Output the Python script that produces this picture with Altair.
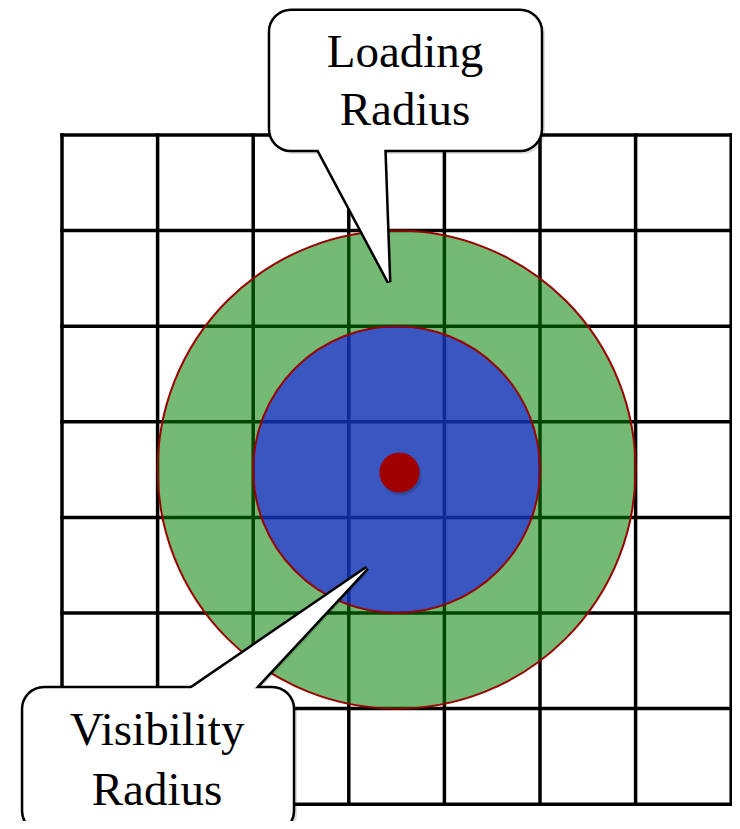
import altair as alt
import pandas as pd

# ---------------- data ----------------
GRID_LINES = [0, 1, 2, 3, 4, 5, 6, 7]          # cell boundaries (cell units)
GRID_MIN, GRID_MAX = 0, 7

CENTER = [3.5, 3.5]                             # centre of the zones
ZONE_NAMES = ["Loading", "Visibility"]
ZONE_RADII = [2.5, 1.5]                         # radius in cells
ZONE_FILLS = ["#008000", "#181ced"]
ZONE_OPACITY = [0.545, 0.63]

PLAYER_POS = [3.53, 3.53]
PLAYER_RADIUS = 0.21

CALLOUT_LINES = [["Loading", "Radius"], ["Visibility", "Radius"]]
CALLOUT_TEXT_U = [3.588, 0.994]
CALLOUT_TEXT_V = [[-0.711, -0.105], [6.381, 7.008]]
CALLOUT_BOX_U = [[2.165, 5.021], [-0.418, 2.427]]
CALLOUT_BOX_V = [[-1.31, 0.167], [5.774, 7.30]]
CALLOUT_BASE_U = [[2.646, 3.368], [1.255, 1.956]]
CALLOUT_BASE_V = [0.167, 5.774]
CALLOUT_TIP = [[3.42, 1.538], [3.19, 4.529]]

# ---------------- layout ----------------
WIDTH, HEIGHT = 724, 813
XDOM = [-0.5649, 7.0084]
YDOM = [-1.3285, 7.1757]
S = WIDTH / (XDOM[1] - XDOM[0])  # px per cell

xs = alt.Scale(domain=XDOM, nice=False, zero=False)
ys = alt.Scale(domain=YDOM, nice=False, zero=False, reverse=True)
size_scale = alt.Scale(type="linear", domain=[0, 1], range=[0, S * S], zero=True)


def X(f):
    return alt.X(f"{f}:Q", scale=xs, axis=None)


def Y(f):
    return alt.Y(f"{f}:Q", scale=ys, axis=None)


# grid
vdf = pd.DataFrame({"u": GRID_LINES, "v0": GRID_MIN, "v1": GRID_MAX})
hdf = pd.DataFrame({"v": GRID_LINES, "u0": GRID_MIN, "u1": GRID_MAX})
vert = alt.Chart(vdf).mark_rule(color="black", strokeWidth=3.5, strokeCap="square").encode(
    x=X("u"), y=Y("v0"), y2="v1")
horiz = alt.Chart(hdf).mark_rule(color="black", strokeWidth=3.5, strokeCap="square").encode(
    y=Y("v"), x=X("u0"), x2="u1")

# zones
zone_layers = []
for name, r, fill, op in zip(ZONE_NAMES, ZONE_RADII, ZONE_FILLS, ZONE_OPACITY):
    zdf = pd.DataFrame({"name": [name], "r": [r], "u": [CENTER[0]], "v": [CENTER[1]]})
    zone_layers.append(
        alt.Chart(zdf).transform_calculate(d2="pow(2*datum.r, 2)")
        .mark_point(shape="circle", filled=True, fill=fill, fillOpacity=op,
                    stroke="#9a0000", strokeWidth=2, strokeOpacity=1)
        .encode(x=X("u"), y=Y("v"), size=alt.Size("d2:Q", scale=size_scale, legend=None))
    )

pdf = pd.DataFrame({"u": [PLAYER_POS[0]], "v": [PLAYER_POS[1]], "r": [PLAYER_RADIUS]})
player_shadow = alt.Chart(pdf).transform_calculate(d2="pow(2*datum.r, 2)").mark_point(
    shape="circle", filled=True, fill="black", fillOpacity=0.15, strokeOpacity=0,
    xOffset=2, yOffset=3).encode(x=X("u"), y=Y("v"), size=alt.Size("d2:Q", scale=size_scale, legend=None))
player = alt.Chart(pdf).transform_calculate(d2="pow(2*datum.r, 2)").mark_point(
    shape="circle", filled=True, fill="#a00000", fillOpacity=1, strokeOpacity=0).encode(
    x=X("u"), y=Y("v"), size=alt.Size("d2:Q", scale=size_scale, legend=None))

# callouts
box_rows, poly_rows, text_rows = [], [], []
for k in range(len(CALLOUT_LINES)):
    box_rows.append({"id": k, "u0": CALLOUT_BOX_U[k][0], "u1": CALLOUT_BOX_U[k][1],
                     "v0": CALLOUT_BOX_V[k][0], "v1": CALLOUT_BOX_V[k][1]})
    bv = CALLOUT_BASE_V[k]
    tip = CALLOUT_TIP[k]
    inset = 0.08 * (1 if bv > tip[1] else -1)
    pts = [(CALLOUT_BASE_U[k][0], bv + inset), (tip[0], tip[1]), (CALLOUT_BASE_U[k][1], bv + inset)]
    for i, (pu, pv) in enumerate(pts):
        poly_rows.append({"id": k, "i": i, "u": pu, "v": pv})
    for line, tv in zip(CALLOUT_LINES[k], CALLOUT_TEXT_V[k]):
        text_rows.append({"id": k, "text": line, "u": CALLOUT_TEXT_U[k], "v": tv})

bdf = pd.DataFrame(box_rows)
polydf = pd.DataFrame(poly_rows)
tdf = pd.DataFrame(text_rows)

box_shadow = alt.Chart(bdf).mark_rect(fill="black", fillOpacity=0.12, cornerRadius=22,
                                      xOffset=3, x2Offset=3, yOffset=3, y2Offset=3).encode(
    x=X("u0"), x2="u1", y=Y("v0"), y2="v1")
poly_shadow = alt.Chart(polydf).mark_line(interpolate="linear-closed", fill="black", fillOpacity=0.12,
                                          strokeOpacity=0, xOffset=3, yOffset=3).encode(
    x=X("u"), y=Y("v"), order="i:Q", detail="id:N")
poly_outline = alt.Chart(polydf).mark_line(interpolate="linear-closed", fill="white", stroke="black",
                                           strokeWidth=5, strokeJoin="miter").encode(
    x=X("u"), y=Y("v"), order="i:Q", detail="id:N")
box = alt.Chart(bdf).mark_rect(fill="white", stroke="black", strokeWidth=2.5, cornerRadius=22).encode(
    x=X("u0"), x2="u1", y=Y("v0"), y2="v1")
poly_fill = alt.Chart(polydf).mark_line(interpolate="linear-closed", fill="white", fillOpacity=1,
                                        strokeOpacity=0).encode(
    x=X("u"), y=Y("v"), order="i:Q", detail="id:N")
text = alt.Chart(tdf).mark_text(font="Liberation Serif", fontSize=47, align="center",
                                baseline="alphabetic", color="black").encode(
    x=X("u"), y=Y("v"), text="text:N")

chart = alt.layer(
    vert, horiz, *zone_layers, player_shadow, player,
    box_shadow, poly_shadow, poly_outline, box, poly_fill, text
).properties(
    width=WIDTH, height=HEIGHT, padding=0,
    autosize=alt.AutoSizeParams(type="none"),
).configure_view(stroke=None)

chart.save("out.html", embed_options={"renderer": "svg", "actions": False})
